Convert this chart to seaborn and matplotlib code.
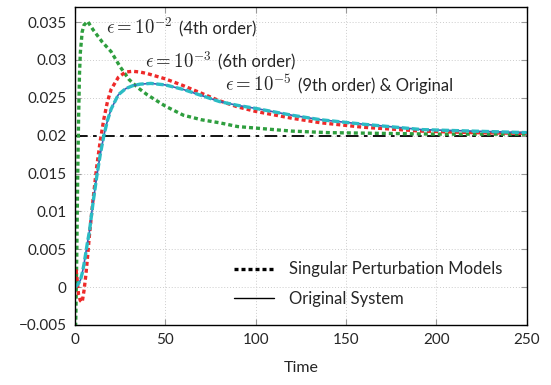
import numpy as np
import pandas as pd
import matplotlib
matplotlib.use("Agg")
import matplotlib.pyplot as plt
from matplotlib.lines import Line2D
from matplotlib.ticker import FuncFormatter
import seaborn as sns

# eps = 1e-2 (4th order model)
t_eps2 = [0, 0.5, 1, 1.5, 2, 2.5, 3, 4, 5, 7, 10, 15, 20, 25, 30, 35, 40, 50,
          60, 70, 80, 90, 100, 120, 140, 170, 200, 250]
y_eps2 = [-0.008, -0.004, 0.004, 0.014, 0.022, 0.028, 0.031, 0.0337, 0.0346,
          0.0351, 0.0340, 0.0324, 0.0311, 0.0291, 0.0274, 0.0263, 0.0254,
          0.0239, 0.0227, 0.0221, 0.0217, 0.0212, 0.0210, 0.0206, 0.0204,
          0.0203, 0.0202, 0.0202]

# eps = 1e-3 (6th order model)
t_eps3 = [0, 0.5, 1, 2, 3, 4, 5, 6, 7, 8, 10, 12, 14, 16, 18, 20, 24, 28, 32,
          36, 40, 50, 60, 70, 80, 90, 100, 120, 136, 160, 192, 220, 250]
y_eps3 = [0.000, 0.0025, 0.0015, -0.0010, -0.0018, -0.0020, -0.0005, 0.0015,
          0.0040, 0.0068, 0.0115, 0.0158, 0.0193, 0.0222, 0.0245, 0.0261,
          0.0277, 0.0284, 0.0285, 0.0284, 0.0282, 0.0275, 0.0266, 0.0256,
          0.0246, 0.0238, 0.0232, 0.0223, 0.0217, 0.0211, 0.0206, 0.0204,
          0.0203]

# eps = 1e-5 (9th order model) and the original system
t_eps5 = [0, 1, 2, 3, 4, 5, 6, 7, 8, 10, 12, 14, 16, 18, 20, 24, 28, 32, 36,
          42, 50, 60, 70, 80, 90, 100, 120, 136, 160, 192, 220, 250]
y_eps5 = [0.0, 0.0002, 0.0005, 0.0009, 0.0018, 0.0030, 0.0045, 0.0060, 0.0073,
          0.0111, 0.0145, 0.0175, 0.0200, 0.0220, 0.0235, 0.0254, 0.0262,
          0.0266, 0.0268, 0.0269, 0.0267, 0.0261, 0.0253, 0.0245, 0.0240,
          0.0236, 0.0227, 0.0221, 0.0215, 0.0208, 0.0206, 0.0204]
y_orig = [0.0, 0.0002, 0.0005, 0.0009, 0.0018, 0.0030, 0.0045, 0.0060, 0.0073,
          0.0111, 0.0145, 0.0175, 0.0200, 0.0220, 0.0235, 0.0254, 0.0262,
          0.0266, 0.0268, 0.0269, 0.0267, 0.0261, 0.0253, 0.0245, 0.0240,
          0.0236, 0.0227, 0.0221, 0.0215, 0.0208, 0.0206, 0.0204]

setpoint = 0.02

x_ticks = [0, 50, 100, 150, 200, 250]
y_ticks = [-0.005, 0, 0.005, 0.01, 0.015, 0.02, 0.025, 0.03, 0.035]

# curve labels: (math part, text part, t, y baseline)
labels = [
    (r'$\epsilon = 10^{-2}$', '(4th order)', 17.0, 0.0334),
    (r'$\epsilon = 10^{-3}$', '(6th order)', 38.5, 0.0290),
    (r'$\epsilon = 10^{-5}$', '(9th order) & Original', 83.0, 0.0259),
]

sns.set_style("ticks")
plt.rcParams['font.family'] = ['Lato', 'DejaVu Sans']
plt.rcParams['mathtext.fontset'] = 'cm'
plt.rcParams['font.size'] = 11

fig = plt.figure(figsize=(5.51, 3.85), dpi=100)
ax = fig.add_axes([0.136, 0.156, 0.82, 0.826])

ax.grid(True, color='#cccccc', linestyle=(0, (1, 2)), linewidth=0.7)
ax.set_axisbelow(True)

ax.axhline(setpoint, color='black', linewidth=1.3, linestyle=(0, (7, 3, 2, 3)))

sns.lineplot(x=t_eps2, y=y_eps2, ax=ax, color='#2e9e3e', linewidth=2.4,
             linestyle=(0, (1.2, 0.9)))
sns.lineplot(x=t_eps3, y=y_eps3, ax=ax, color='#ee2a2a', linewidth=2.4,
             linestyle=(0, (1.2, 0.9)))
sns.lineplot(x=t_eps5, y=y_orig, ax=ax, color='#3a5fb8', linewidth=1.2)
sns.lineplot(x=t_eps5, y=y_eps5, ax=ax, color='#2bbcc4', linewidth=2.4,
             linestyle=(0, (2.2, 0.8)))

ax.set_xlim(0, 250)
ax.set_ylim(-0.005, 0.037)
ax.set_xticks(x_ticks)
ax.set_yticks(y_ticks)
ax.yaxis.set_major_formatter(FuncFormatter(lambda v, p: ('%g' % v).replace('-', '\u2212')))
ax.tick_params(direction='in', top=True, right=True, length=4, labelsize=11,
               color='#999999', pad=6)
for s in ax.spines.values():
    s.set_color('black')
    s.set_linewidth(1.0)
ax.set_xlabel('Time', fontsize=11.5, labelpad=10)
ax.set_ylabel('')

handles = [Line2D([], [], color='black', linewidth=2.4, linestyle=(0, (1.2, 0.9))),
           Line2D([], [], color='black', linewidth=1.0)]
ax.legend(handles, ['Singular Perturbation Models', 'Original System'],
          loc='lower right', bbox_to_anchor=(0.98, 0.01), frameon=False,
          handlelength=2.4, handletextpad=0.9, labelspacing=0.8, fontsize=12)

# math part larger than the plain text part
math_texts = []
for m, s, tx, ty in labels:
    math_texts.append(ax.text(tx, ty, m, fontsize=13.5, va='baseline'))
fig.canvas.draw()
renderer = fig.canvas.get_renderer()
for mt, (m, s, tx, ty) in zip(math_texts, labels):
    bb = mt.get_window_extent(renderer)
    x_end = ax.transData.inverted().transform((bb.x1 + 7, 0))[0]
    ax.text(x_end, ty, s, fontsize=12, va='baseline')

fig.savefig('out.png', dpi=100)
